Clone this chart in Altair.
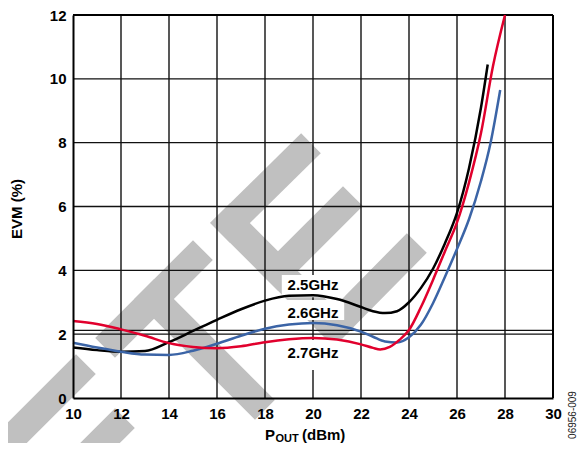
import altair as alt
import pandas as pd

# ---------------- data ----------------
series = ["2.5GHz", "2.6GHz", "2.7GHz"]
colors = ["#000000", "#3b64a6", "#e1002d"]

x_25 = [10, 11, 12, 13, 14, 15, 16, 17, 18, 19, 20, 21, 22, 22.5, 23, 23.5, 24, 24.5, 25, 25.5, 26, 26.5, 27, 27.28]
y_25 = [1.58, 1.5, 1.45, 1.47, 1.75, 2.1, 2.45, 2.78, 3.05, 3.2, 3.22, 3.1, 2.85, 2.72, 2.66, 2.72, 3.0, 3.45, 4.05, 4.85, 5.8, 7.2, 9.1, 10.45]

x_26 = [10, 11, 12, 13, 14, 15, 16, 17, 18, 19, 20, 21, 22, 22.5, 23, 23.5, 24, 24.5, 25, 25.5, 26, 26.5, 27, 27.4, 27.8]
y_26 = [1.73, 1.58, 1.45, 1.36, 1.35, 1.48, 1.7, 1.95, 2.17, 2.3, 2.35, 2.28, 2.08, 1.92, 1.77, 1.74, 1.9, 2.3, 2.97, 3.8, 4.67, 5.6, 6.8, 8.0, 9.65]

x_27 = [10, 11, 12, 13, 14, 15, 16, 17, 18, 19, 20, 21, 22, 22.5, 22.8, 23.2, 23.6, 24, 24.5, 25, 25.5, 26, 26.5, 27, 27.5, 28]
y_27 = [2.41, 2.32, 2.15, 1.95, 1.72, 1.6, 1.56, 1.62, 1.75, 1.84, 1.88, 1.83, 1.68, 1.57, 1.52, 1.6, 1.82, 2.13, 2.85, 3.7, 4.6, 5.5, 6.75, 8.3, 10.4, 12.0]

x_ticks = [10, 12, 14, 16, 18, 20, 22, 24, 26, 28, 30]
y_ticks = [0, 2, 4, 6, 8, 10, 12]
grid_x = [12, 14, 16, 18, 20, 22, 24, 26, 28]
grid_y = [2, 2.12, 4, 6, 8, 10]

label_x = [20, 20, 20]
label_y = [3.54, 2.66, 1.41]
box_x1 = [18.7, 18.7, 18.7]
box_x2 = [21.3, 21.3, 21.3]
box_y1 = [3.16, 2.44, 0.88]
box_y2 = [3.85, 3.07, 1.82]

# watermark strokes (page pixels: x0, y0, x1, y1)
wm_x0 = [76, 115, 193, 154, 301, 230, 278, 334]
wm_y0 = [374, 428, 260, 299, 153, 223, 271, 327]
wm_x1 = [-30, 60, 115, 255, 230, 334, 343, 407]
wm_y1 = [480, 483, 338, 400, 223, 327, 206, 253]

# ---------------- geometry helpers ----------------
W, H = 480, 383
X0, Y0 = 73, 15  # plot origin on page


def px2x(p):
    return 10 + (p - X0) * 20.0 / W


def py2y(p):
    return (Y0 + H - p) * 12.0 / H


rows = []
for name, xs, ys in [(series[0], x_25, y_25), (series[1], x_26, y_26), (series[2], x_27, y_27)]:
    for i, (a, b) in enumerate(zip(xs, ys)):
        rows.append({"series": name, "x": a, "y": b, "o": i})
df = pd.DataFrame(rows)

df_wm = pd.DataFrame({
    "x": [px2x(v) for v in wm_x0], "y": [py2y(v) for v in wm_y0],
    "x2": [px2x(v) for v in wm_x1], "y2": [py2y(v) for v in wm_y1],
})
df_gx = pd.DataFrame({"x": grid_x})
df_gy = pd.DataFrame({"y": grid_y})
df_box = pd.DataFrame({"x": box_x1, "x2": box_x2, "y": box_y1, "y2": box_y2})
df_lab = pd.DataFrame({"x": label_x, "y": label_y, "t": series})

FONT = "Liberation Sans"

xscale = alt.Scale(domain=[10, 30], nice=False, zero=False)
yscale = alt.Scale(domain=[0, 12], nice=False, zero=False)

xaxis = alt.Axis(values=x_ticks, title=None, grid=False, ticks=False, domainColor="#000",
                 domainWidth=2, labelFont=FONT, labelFontSize=15, labelFontWeight="bold",
                 labelColor="#000", labelPadding=8, labelFlush=False, zindex=1)
yaxis = alt.Axis(values=y_ticks, title=None, grid=False, ticks=False, domainColor="#000",
                 domainWidth=2, labelFont=FONT, labelFontSize=15, labelFontWeight="bold",
                 labelColor="#000", labelPadding=7, labelFlush=False, zindex=1)

base_x = alt.X("x:Q", scale=xscale, axis=xaxis)
base_y = alt.Y("y:Q", scale=yscale, axis=yaxis)

watermark = alt.Chart(df_wm).mark_rule(strokeWidth=28, color="#c0c0c0", strokeCap="square").encode(
    x=base_x, y=base_y, x2="x2:Q", y2="y2:Q")

gridx = alt.Chart(df_gx).mark_rule(strokeWidth=1.4, color="#111").encode(x=alt.X("x:Q", scale=xscale, axis=xaxis))
gridy = alt.Chart(df_gy).mark_rule(strokeWidth=1.4, color="#111").encode(y=alt.Y("y:Q", scale=yscale, axis=yaxis))

frame_r = alt.Chart(pd.DataFrame({"x": [30]})).mark_rule(strokeWidth=2, color="#000").encode(
    x=alt.X("x:Q", scale=xscale, axis=xaxis))
frame_t = alt.Chart(pd.DataFrame({"y": [12]})).mark_rule(strokeWidth=2, color="#000").encode(
    y=alt.Y("y:Q", scale=yscale, axis=yaxis))

boxes = alt.Chart(df_box).mark_rect(color="white").encode(x=base_x, x2="x2:Q", y=base_y, y2="y2:Q")

lines = alt.Chart(df).mark_line(strokeWidth=2.5, interpolate="monotone").encode(
    x=base_x, y=base_y, order="o:Q",
    color=alt.Color("series:N", scale=alt.Scale(domain=series, range=colors), legend=None))

labels = alt.Chart(df_lab).mark_text(font=FONT, fontSize=15, fontWeight="bold", color="#000",
                                     baseline="middle", align="center").encode(
    x=base_x, y=base_y, text="t:N")

one = pd.DataFrame({"a": [0]})
t_p = alt.Chart(one).mark_text(text="P", font=FONT, fontSize=15, fontWeight="bold", align="right",
                              baseline="alphabetic", color="#000").encode(x=alt.value(202), y=alt.value(425))
t_out = alt.Chart(one).mark_text(text="OUT", font=FONT, fontSize=11, fontWeight="bold", align="left",
                                baseline="alphabetic", color="#000").encode(x=alt.value(202.5), y=alt.value(427))
t_dbm = alt.Chart(one).mark_text(text="(dBm)", font=FONT, fontSize=15, fontWeight="bold", align="left",
                                baseline="alphabetic", color="#000").encode(x=alt.value(229), y=alt.value(425))
t_y = alt.Chart(one).mark_text(text="EVM (%)", font=FONT, fontSize=15, fontWeight="bold", align="center",
                              baseline="middle", angle=270, color="#000").encode(x=alt.value(-56), y=alt.value(194))
t_side = alt.Chart(one).mark_text(text="06956-009", font=FONT, fontSize=10, align="center",
                                 baseline="middle", angle=270, color="#222").encode(x=alt.value(500), y=alt.value(400))

chart = alt.layer(
    watermark, gridx, gridy, frame_r, frame_t, boxes, lines, labels,
    t_p, t_out, t_dbm, t_y, t_side
).properties(
    width=W, height=H,
    autosize=alt.AutoSizeParams(type="none"),
    padding={"left": 65, "top": 7, "right": 24, "bottom": 45},
).configure_view(stroke=None)

chart.save("out.html", embed_options={"renderer": "svg", "actions": False})
